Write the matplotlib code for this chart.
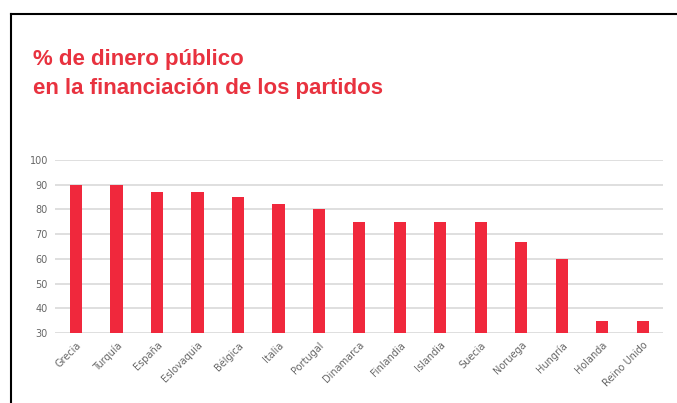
import matplotlib.pyplot as plt
from matplotlib.lines import Line2D

paises = ["Grecia", "Turquía", "España", "Eslovaquia", "Bélgica", "Italia",
          "Portugal", "Dinamarca", "Finlandia", "Islandia", "Suecia",
          "Noruega", "Hungría", "Holanda", "Reino Unido"]
porcentaje = [90, 90, 87, 87, 85, 82, 80, 75, 75, 75, 75, 67, 60, 35, 35]
yticks = [30, 40, 50, 60, 70, 80, 90, 100]

rojo = "#f0283c"
gris = "#666666"

fig = plt.figure(figsize=(6.77, 4.03), dpi=100)
ax = fig.add_axes([55 / 677, 1 - 333 / 403, (663 - 55) / 677, (333 - 160) / 403])

x = range(len(paises))
ax.bar(x, [p - 30 for p in porcentaje], bottom=30, width=0.3, color=rojo, zorder=3)

ax.set_ylim(30, 100)
ax.set_xlim(-0.52, len(paises) - 0.5)
ax.set_yticks(yticks)
ax.set_yticklabels([str(t) for t in yticks], fontsize=7, color=gris)
ax.set_xticks(list(x))
ax.set_xticklabels(paises, rotation=45, ha="right", rotation_mode="anchor",
                   fontsize=7, color=gris)
ax.tick_params(length=0, pad=5)
ax.grid(axis="y", color="#d9d9d9", linewidth=1.2, zorder=0)
for s in ax.spines.values():
    s.set_visible(False)

fig.text(33 / 677, 1 - 65 / 403, "% de dinero público", fontsize=16,
         color="#e8323f", fontweight="bold", family="Liberation Sans")
fig.text(33 / 677, 1 - 94 / 403, "en la financiación de los partidos", fontsize=16,
         color="#e8323f", fontweight="bold", family="Liberation Sans")

# marco
fig.add_artist(Line2D([11 / 677, 11 / 677], [0, 1 - 13.5 / 403], color="black", lw=1.5))
fig.add_artist(Line2D([11 / 677, 1], [1 - 13.5 / 403, 1 - 13.5 / 403], color="black", lw=1.5))

fig.savefig("out.png", dpi=100)
